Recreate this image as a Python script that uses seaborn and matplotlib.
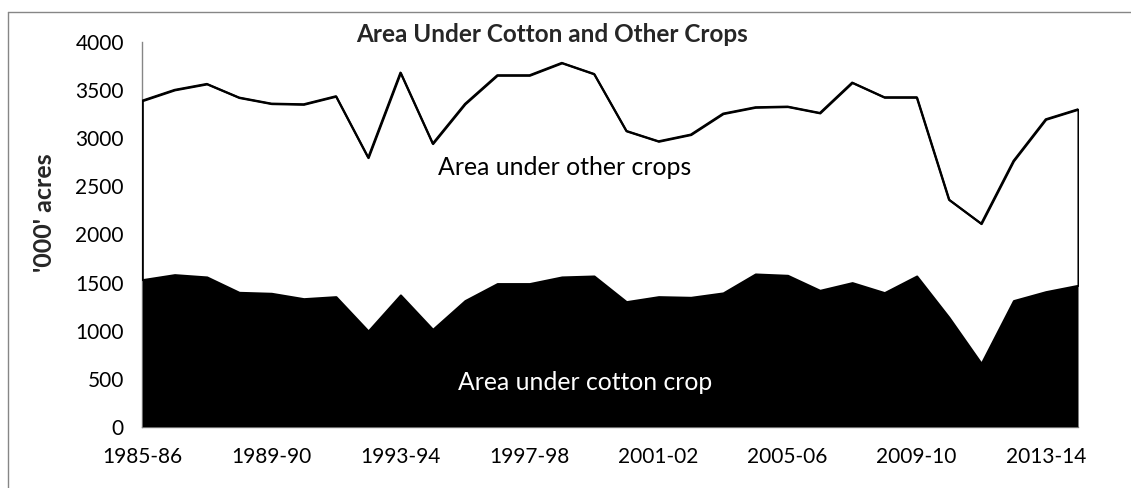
import numpy as np
import pandas as pd
import matplotlib
matplotlib.use("Agg")
import matplotlib.pyplot as plt
import seaborn as sns

years = ["1985-86", "1986-87", "1987-88", "1988-89", "1989-90", "1990-91",
         "1991-92", "1992-93", "1993-94", "1994-95", "1995-96", "1996-97",
         "1997-98", "1998-99", "1999-00", "2000-01", "2001-02", "2002-03",
         "2003-04", "2004-05", "2005-06", "2006-07", "2007-08", "2008-09",
         "2009-10", "2010-11", "2011-12", "2012-13", "2013-14", "2014-15"]
total_area = [3393, 3505, 3567, 3425, 3362, 3355, 3439, 2800, 3685, 2946,
              3359, 3657, 3657, 3786, 3671, 3078, 2970, 3040, 3258, 3324,
              3331, 3265, 3581, 3428, 3428, 2363, 2113, 2766, 3199, 3303]
cotton_area = [1530, 1582, 1558, 1398, 1388, 1332, 1353, 996, 1371, 1013,
               1312, 1489, 1489, 1558, 1568, 1301, 1353, 1346, 1392, 1589,
               1575, 1419, 1499, 1395, 1568, 1138, 659, 1312, 1405, 1471]
tick_labels = ["1985-86", "1989-90", "1993-94", "1997-98", "2001-02",
               "2005-06", "2009-10", "2013-14"]

df = pd.DataFrame({"year": years, "idx": np.arange(len(years)),
                   "total": total_area, "cotton": cotton_area})

sns.set_style("white")
plt.rcParams["font.family"] = ["Lato", "DejaVu Sans"]

fig = plt.figure(figsize=(11.31, 4.88), dpi=100)
ax = fig.add_axes([142.3 / 1131, 61.3 / 488, (1078 - 142.3) / 1131, (426.7 - 42.3) / 488])

gray = "#868686"
ax.fill_between(df["idx"], 0, df["cotton"], color="black", linewidth=0, zorder=2)
ax.fill_between(df["idx"], df["cotton"], df["total"], facecolor="white",
                edgecolor="black", linewidth=1.5, zorder=3)
sns.lineplot(data=df, x="idx", y="total", color="black", linewidth=1.5, ax=ax, zorder=4)

ax.set_xlim(0, len(years) - 1)
ax.set_ylim(0, 4000)
ax.set_yticks(np.arange(0, 4001, 500))
tick_pos = [years.index(t) for t in tick_labels]
ax.set_xticks(tick_pos)
ax.set_xticklabels(tick_labels)
ax.set_xlabel("")
ax.set_ylabel("")

for s in ["top", "right"]:
    ax.spines[s].set_visible(False)
for s in ["left", "bottom"]:
    ax.spines[s].set_color(gray)
    ax.spines[s].set_linewidth(1)
    ax.spines[s].set_zorder(1)
ax.tick_params(axis="both", direction="out", length=4.3, width=1, color=gray,
               labelsize=15, labelcolor="black")
ax.tick_params(axis="y", pad=9)
ax.tick_params(axis="x", pad=10)

fig.text(552 / 1131, 1 - 34 / 488, "Area Under Cotton and Other Crops",
         ha="center", va="center", fontsize=17.5, fontweight="bold")
fig.text(45 / 1131, 1 - 213 / 488, "'000' acres", rotation=90,
         ha="center", va="center", fontsize=18, fontweight="bold")
fig.text(565 / 1131, 1 - 168 / 488, "Area under other crops",
         ha="center", va="center", fontsize=17.9, color="black", zorder=10)
fig.text(585 / 1131, 1 - 382 / 488, "Area under cotton crop",
         ha="center", va="center", fontsize=17.8, color="white", zorder=10)

# chart border (left and top visible)
fig.add_artist(plt.Line2D([8 / 1131, 8 / 1131], [0, 1 - 12 / 488],
                          transform=fig.transFigure, color=gray, linewidth=1))
fig.add_artist(plt.Line2D([8 / 1131, 1], [1 - 12 / 488, 1 - 12 / 488],
                          transform=fig.transFigure, color=gray, linewidth=1))

fig.savefig("out.png", dpi=100)
